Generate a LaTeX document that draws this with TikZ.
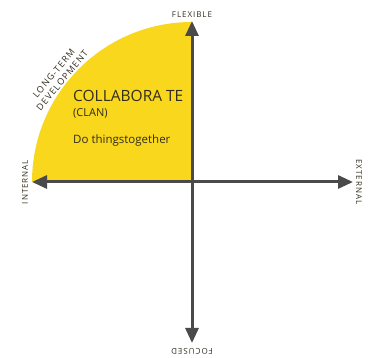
\documentclass[tikz,border=0pt]{standalone}
\usepackage{fontspec}
\setmainfont{Open Sans}
\newfontfamily\tagfont{Open Sans}[LetterSpace=12]
\usetikzlibrary{arrows.meta,positioning}
\definecolor{clanyellow}{RGB}{249,215,28}
\definecolor{axisgray}{RGB}{74,74,74}
\definecolor{inkgray}{RGB}{50,45,30}

\begin{document}
\begin{tikzpicture}[x=1pt,y=1pt,
  axis/.style={line width=3pt,draw=axisgray,-{Triangle[length=15pt,width=13pt]}},
  tag/.style={text=inkgray,font=\tagfont\fontsize{8}{10}\selectfont,inner sep=0}]
\useasboundingbox (0,0) rectangle (370,358);

% Nodes
\coordinate (o) at (192,176);
\coordinate (n) at (192,337);
\coordinate (s) at (192,15);
\coordinate (w) at (32,176);
\coordinate (e) at (353,176);

\fill[clanyellow] (o) -- (w) arc[start angle=180,end angle=90,radius=160] -- cycle;

\node[anchor=base west,text=inkgray,inner sep=0,font=\fontsize{15.5}{18}\selectfont] at (73,256) (collab) {COLLABORA TE};
\node[anchor=base west,text=inkgray,inner sep=0,font=\fontsize{11}{13}\selectfont] at (73,241) (clan) {(CLAN)};
\node[anchor=base west,text=inkgray,inner sep=0,font=\fontsize{11.5}{13}\selectfont] at (73,214) (together) {Do thingstogether};

\node[tag,align=center,rotate=50,font=\tagfont\fontsize{9}{11}\selectfont] at (58,281) (longterm) {LONG-TERM\\DEVELOPMENT};

\node[tag,above=3pt of n] (flex) {FLEXIBLE};
\node[tag,rotate=90,anchor=south] at ([xshift=-4pt]w) (internal) {INTERNAL};
\node[tag,rotate=-90,anchor=south] at ([xshift=3pt]e) (external) {EXTERNAL};
\node[tag,rotate=180,anchor=south] at ([yshift=-5pt]s) (focused) {FOCUSED};

%arcs
\path (o) edge[axis] (n);
\path (o) edge[axis] (s);
\path (o) edge[axis] (w);
\path (o) edge[axis] (e);

\end{tikzpicture}
\end{document}
